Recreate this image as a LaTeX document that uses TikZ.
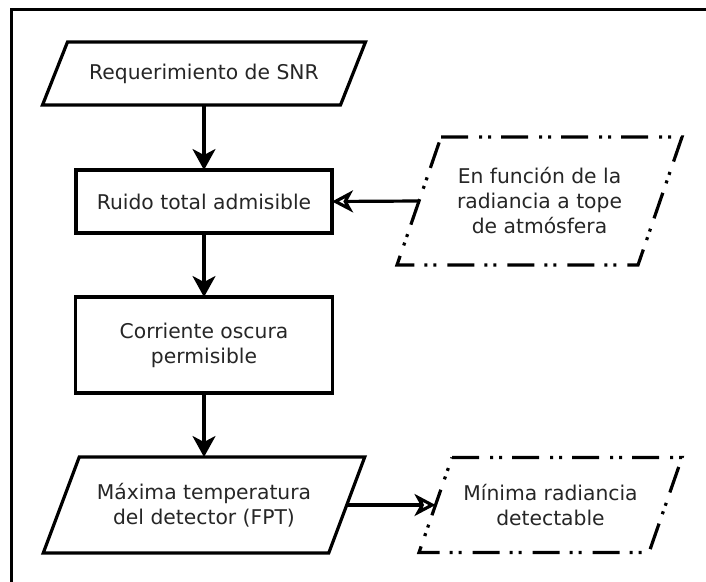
\documentclass[tikz,border=0pt]{standalone}
\usepackage{fontspec}
\setmainfont{DejaVu Sans}
\usetikzlibrary{arrows.meta}
\begin{document}
\begin{tikzpicture}[x=1pt,y=-1pt,
  every node/.style={font=\fontsize{20.3}{25}\selectfont, text=black!85,
    align=center, outer sep=0pt, inner sep=0pt},
  procbox/.style={draw, line width=3.2pt},
  outline/.style={line width=3.2pt, line join=miter},
  dashdot/.style={line width=3.2pt,
    dash pattern=on 27pt off 11pt on 3pt off 6pt on 3pt off 10pt},
  flow/.style={line width=3.2pt, -{Stealth[length=21pt,width=23pt,inset=6pt]}},
  feed/.style={line width=3.2pt,
    -{Stealth[open,length=21pt,width=22pt,inset=6pt,fill=white]}}]

% page and frame
\fill[white, use as bounding box] (0,0) rectangle (706,581);
\clip (0,0) rectangle (706,581);
\draw[line width=3.2pt] (11.5,600) -- (11.5,9.5) -- (720,9.5);

% main column
\node[minimum width=298pt, minimum height=63pt] (snr) at (204,73.5) {Requerimiento de SNR};
\node[procbox, minimum width=256pt, minimum height=63pt] (ruido) at (204,201.5) {Ruido total admisible};
\node[procbox, minimum width=257pt, minimum height=96pt] (oscura) at (204,345) {Corriente oscura\\permisible};
\node[minimum width=285.5pt, minimum height=96pt] (fpt) at (204,505) {Máxima temperatura\\del detector (FPT)};

% side inputs / outputs
\node[minimum width=241pt, minimum height=128pt] (toa) at (539.5,201) {En función de la\\radiancia a tope\\de atmósfera};
\node[minimum width=230pt, minimum height=95pt] (minrad) at (550.5,505) {Mínima radiancia\\detectable};

% parallelogram outlines
\draw[outline] ([xshift=12.5pt]snr.north west) -- ([xshift=12.5pt]snr.north east)
  -- ([xshift=-12.5pt]snr.south east) -- ([xshift=-12.5pt]snr.south west) -- cycle;
\draw[outline] ([xshift=18pt]fpt.north west) -- ([xshift=18pt]fpt.north east)
  -- ([xshift=-18pt]fpt.south east) -- ([xshift=-18pt]fpt.south west) -- cycle;
\draw[dashdot] ([xshift=22pt]toa.north west) -- ([xshift=22pt]toa.north east)
  -- ([xshift=-22pt]toa.south east) -- ([xshift=-22pt]toa.south west) -- cycle;
\draw[dashdot] ([xshift=16.5pt]minrad.north west) -- ([xshift=16.5pt]minrad.north east)
  -- ([xshift=-16.5pt]minrad.south east) -- ([xshift=-16.5pt]minrad.south west) -- cycle;

% connectors
\draw[flow] (snr.south) -- (ruido.north);
\draw[flow] (ruido.south) -- (oscura.north);
\draw[flow] (oscura.south) -- (fpt.north);
\draw[feed] (toa.west) -- (ruido.east);
\draw[feed] (fpt.east) -- (minrad.west);
\end{tikzpicture}
\end{document}
